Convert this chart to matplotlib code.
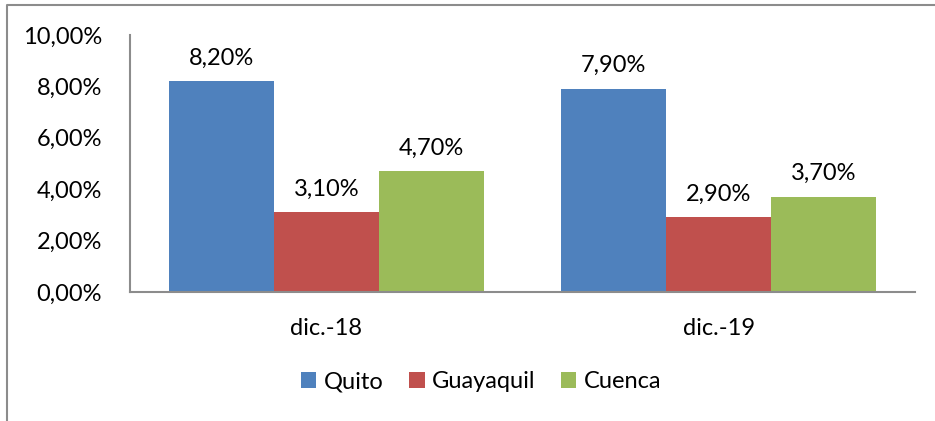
import matplotlib
matplotlib.use("Agg")
import matplotlib.pyplot as plt
from matplotlib.lines import Line2D
import numpy as np

categories = ["dic.-18", "dic.-19"]
series_names = ["Quito", "Guayaquil", "Cuenca"]
quito = [8.2, 7.9]
guayaquil = [3.1, 2.9]
cuenca = [4.7, 3.7]
yticks = [0, 2, 4, 6, 8, 10]
colors = ["#4F81BD", "#C0504D", "#9BBB59"]

plt.rcParams['font.family'] = ['Lato', 'DejaVu Sans']
W, H = 935, 421
fig = plt.figure(figsize=(W / 100, H / 100), dpi=100)
ax = fig.add_axes([130 / W, 1 - 292 / H, (915 - 130) / W, (292 - 35) / H])

x = np.arange(len(categories))
bw = 0.2675
values = [quito, guayaquil, cuenca]
fs = 17
for i, (name, vals, c) in enumerate(zip(series_names, values, colors)):
    pos = x + (i - 1) * bw
    ax.bar(pos, vals, width=bw, color=c, label=name, zorder=2)
    for xp, v in zip(pos, vals):
        ax.text(xp, v + 0.5, f"{v:.2f}%".replace(".", ","), ha="center", va="bottom",
                fontsize=fs, color="black")

ax.set_xlim(-0.5, 1.5)
ax.set_ylim(0, 10)
ax.set_yticks(yticks)
ax.set_yticklabels([f"{t:.2f}%".replace(".", ",") for t in yticks], fontsize=fs)
ax.set_xticks(x)
ax.set_xticklabels(categories, fontsize=fs)
ax.tick_params(axis="both", length=0)
ax.tick_params(axis="y", pad=20)
ax.tick_params(axis="x", pad=19)
for s in ["top", "right"]:
    ax.spines[s].set_visible(False)
for s in ["left", "bottom"]:
    ax.spines[s].set_color("#8C8C8C")
    ax.spines[s].set_linewidth(1.5)

fig.legend(loc="center", bbox_to_anchor=(481 / W, 1 - 382 / H), ncol=3, frameon=False,
           fontsize=fs, handlelength=0.65, handleheight=0.65, handletextpad=0.3,
           columnspacing=1.1)

fig.add_artist(Line2D([7 / W, 7 / W, 1.0], [0, 1 - 5 / H, 1 - 5 / H],
                      transform=fig.transFigure, color="#8C8C8C", linewidth=1.5))

fig.savefig("out.png", dpi=100)
